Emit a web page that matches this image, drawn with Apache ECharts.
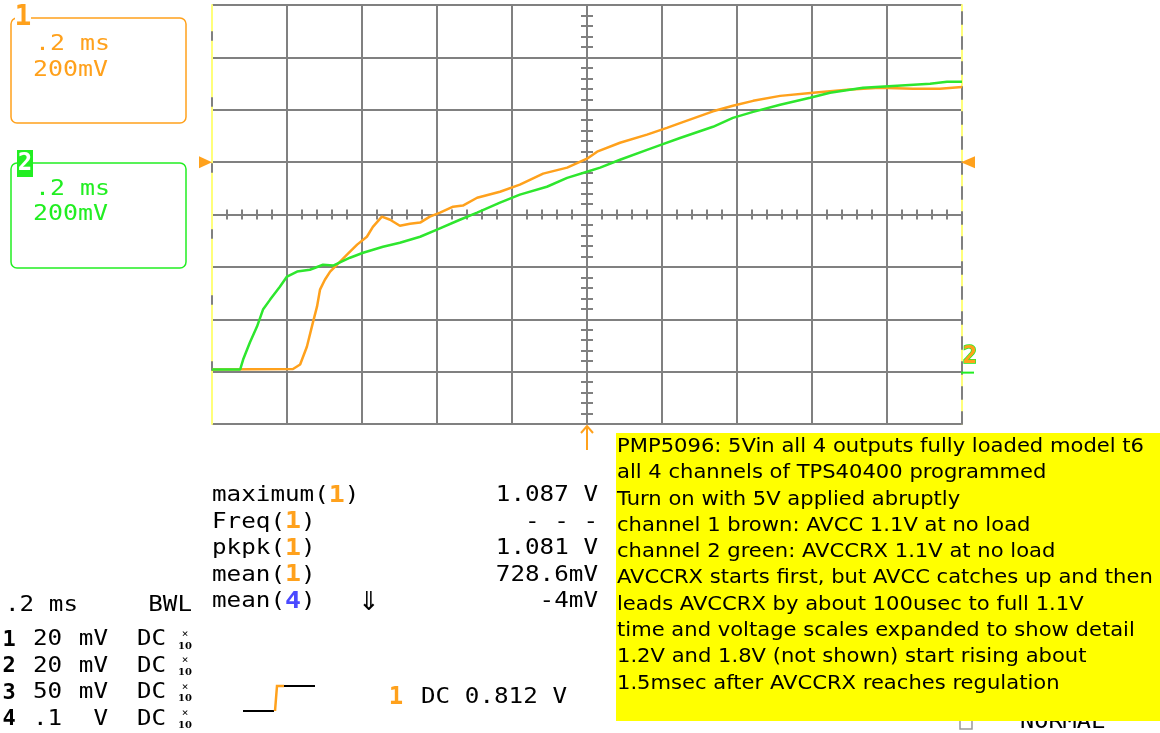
<!DOCTYPE html>
<html><head><meta charset="utf-8">
<script src="https://cdn.jsdelivr.net/npm/echarts@6/dist/echarts.min.js"></script>
<style>html,body{margin:0;padding:0;background:#fff}#c{width:1160px;height:733px}</style>
</head><body><div id="c"></div>
<script>
// ---- data (time in ms relative to trigger, voltage in V) ----
const ch1Time = [-1.0,-0.784,-0.765,-0.747,-0.731,-0.720,-0.712,-0.699,-0.685,-0.667,-0.640,-0.613,-0.587,-0.571,-0.547,-0.525,-0.499,-0.472,-0.445,-0.419,-0.392,-0.357,-0.331,-0.293,-0.232,-0.179,-0.117,-0.053,0,0.027,0.088,0.160,0.213,0.248,0.336,0.389,0.443,0.515,0.603,0.693,0.781,0.869,0.941,1.0];
const ch1Volt = [0.008,0.010,0.027,0.095,0.187,0.248,0.313,0.351,0.382,0.408,0.447,0.485,0.515,0.553,0.592,0.580,0.557,0.565,0.569,0.592,0.607,0.630,0.634,0.664,0.687,0.714,0.756,0.779,0.813,0.840,0.874,0.905,0.931,0.949,0.994,1.015,1.034,1.053,1.065,1.076,1.084,1.080,1.080,1.087];
const ch2Time = [-1.0,-0.925,-0.917,-0.899,-0.880,-0.864,-0.845,-0.819,-0.800,-0.773,-0.739,-0.704,-0.677,-0.632,-0.597,-0.544,-0.499,-0.445,-0.400,-0.339,-0.293,-0.232,-0.179,-0.107,-0.053,0,0.035,0.088,0.160,0.195,0.248,0.336,0.389,0.443,0.515,0.595,0.648,0.736,0.827,0.915,0.960,1.0];
const ch2Volt = [0.008,0.008,0.046,0.111,0.172,0.237,0.275,0.324,0.363,0.382,0.389,0.408,0.405,0.435,0.454,0.477,0.492,0.515,0.542,0.580,0.607,0.645,0.676,0.706,0.740,0.763,0.779,0.809,0.847,0.865,0.892,0.935,0.969,0.992,1.019,1.046,1.065,1.084,1.092,1.099,1.107,1.107];
const timeMin = -1.0, timeMax = 1.0, timeDiv = 0.2;   // .2 ms / div
const voltMin = -0.2, voltMax = 1.4, voltDiv = 0.2;   // 200 mV / div
const triggerMarkLevel = 0.8;
const groundLevel = 0;
const chanLabels = ['1', '2'];
const chanTimebase = '.2 ms';
const chanScale = '200mV';
const measureNames = ['maximum', 'Freq', 'pkpk', 'mean', 'mean'];
const measureChans = ['1', '1', '1', '1', '4'];
const measureValues = ['1.087 V', '- - -', '1.081 V', '728.6mV', '-4mV'];
const rowNums = ['1', '2', '3', '4'];
const rowValues = ['20', '20', '50', '.1'];
const rowUnits = ['mV', 'mV', 'mV', 'V'];
const triggerText = 'DC 0.812 V';
const noteLines = [
  'PMP5096: 5Vin all 4 outputs fully loaded model t6',
  'all 4 channels of TPS40400 programmed',
  'Turn on with 5V applied abruptly',
  'channel 1 brown: AVCC 1.1V at no load',
  'channel 2 green: AVCCRX 1.1V at no load',
  'AVCCRX starts first, but AVCC catches up and then',
  'leads AVCCRX by about 100usec to full 1.1V',
  'time and voltage scales expanded to show detail',
  '1.2V and 1.8V (not shown) start rising about',
  '1.5msec after AVCCRX reaches regulation'
];

// ---- styles ----
const ORANGE = '#ffa11c', GREEN = '#2ee62e', GREEN2 = '#22ee22', GRID = '#808080', EDGE = '#ffff7a';
const MONO = '"DejaVu Sans Mono"';
const FS = 21;
const mctx = document.createElement('canvas').getContext('2d');
function sxFor(size, adv) { mctx.font = size + 'px ' + MONO; return adv / mctx.measureText('0').width; }
function txt(x, y, text, o) {
  o = o || {};
  const size = o.size || FS;
  return { type: 'text', x: x, y: y, scaleX: o.sx || 1, z: o.z || 10,
    style: { text: text, font: (o.bold ? 'bold ' : '') + size + 'px ' + (o.family || MONO),
      fill: o.color || '#000', align: o.align || 'left', verticalAlign: 'middle', rich: o.rich,
      stroke: o.stroke, lineWidth: o.lw } };
}

const chart = echarts.init(document.getElementById('c'));
const hiddenBits = { axisLabel: { show: false }, splitLine: { show: false } };
function xa(extra) { return Object.assign({ type: 'value', min: timeMin, max: timeMax, interval: timeDiv, axisTick: { show: false }, axisLine: { show: false, onZero: false } }, hiddenBits, extra); }
function ya(extra) { return Object.assign({ type: 'value', min: voltMin, max: voltMax, interval: voltDiv, axisTick: { show: false }, axisLine: { show: false, onZero: false } }, hiddenBits, extra); }
const minor = { show: true, splitNumber: 5, length: 6, lineStyle: { color: GRID, width: 2 } };

chart.setOption({
  animation: false,
  backgroundColor: '#fff',
  grid: { left: 212, top: 5, width: 750, height: 419, show: false },
  xAxis: [
    xa({ splitLine: { show: true, showMinLine: false, showMaxLine: false, lineStyle: { color: GRID, width: 2 } } }),
    xa({ position: 'bottom', offset: -209.5, minorTick: Object.assign({}, minor, { length: 5 }) }),
    xa({ position: 'bottom', offset: -209.5, axisTick: { show: false, inside: true }, minorTick: Object.assign({}, minor, { length: 5 }) })
  ],
  yAxis: [
    ya({ position: 'left', splitLine: { show: true, lineStyle: { color: GRID, width: 2 } }, axisLine: { show: true, onZero: false, lineStyle: { color: EDGE, width: 2 } } }),
    ya({ position: 'left', axisLine: { show: true, onZero: false, lineStyle: { color: GRID, width: 2, type: [8, 58], dashOffset: 12 } } }),
    ya({ position: 'right', axisLine: { show: true, onZero: false, lineStyle: { color: EDGE, width: 2 } } }),
    ya({ position: 'right', axisLine: { show: true, onZero: false, lineStyle: { color: GRID, width: 2, type: [12, 13] } } }),
    ya({ position: 'left', offset: -375, minorTick: minor }),
    ya({ position: 'left', offset: -375, axisTick: { show: false, inside: true }, minorTick: minor })
  ],
  series: [
    { type: 'line', name: '1', data: ch1Time.map((t, i) => [t, ch1Volt[i]]), showSymbol: false, lineStyle: { color: ORANGE, width: 2.5 }, itemStyle: { color: ORANGE }, z: 3 },
    { type: 'line', name: '2', data: ch2Time.map((t, i) => [t, ch2Volt[i]]), showSymbol: false, lineStyle: { color: GREEN, width: 2.5 }, itemStyle: { color: GREEN }, z: 4 }
  ]
});

// ---- annotations ----
const trigL = chart.convertToPixel({ gridIndex: 0 }, [timeMin, triggerMarkLevel]);
const trigR = chart.convertToPixel({ gridIndex: 0 }, [timeMax, triggerMarkLevel]);
const gnd = chart.convertToPixel({ gridIndex: 0 }, [timeMax, groundLevel]);
const ctr = chart.convertToPixel({ gridIndex: 0 }, [0, voltMin]);

const sxBox = sxFor(21, 15);
const sxM = sxFor(FS, 14.6);
mctx.font = '19px "DejaVu Sans"';
const sxNote = 527 / mctx.measureText(noteLines[0]).width;

const g = [];
// channel boxes
g.push({ type: 'rect', shape: { x: 11, y: 18, width: 175, height: 105, r: 6 }, style: { fill: 'none', stroke: ORANGE, lineWidth: 1.5 }, z: 5 });
g.push({ type: 'rect', shape: { x: 15, y: 10, width: 16, height: 14 }, style: { fill: '#fff' }, z: 6 });
g.push(txt(23, 18, chanLabels[0], { size: 28, bold: true, color: ORANGE, align: 'center' }));
g.push(txt(35, 45, chanTimebase, { size: 21, sx: sxBox, color: ORANGE }));
g.push(txt(33, 71, chanScale, { size: 21, sx: sxBox, color: ORANGE }));

g.push({ type: 'rect', shape: { x: 11, y: 163, width: 175, height: 105, r: 6 }, style: { fill: 'none', stroke: GREEN2, lineWidth: 1.5 }, z: 5 });
g.push({ type: 'rect', shape: { x: 17, y: 150, width: 16, height: 27 }, style: { fill: GREEN2 }, z: 6 });
g.push(txt(25, 164, chanLabels[1], { size: 24, bold: true, color: '#fff', align: 'center' }));
g.push(txt(35, 190, chanTimebase, { size: 21, sx: sxBox, color: GREEN2 }));
g.push(txt(33, 215, chanScale, { size: 21, sx: sxBox, color: GREEN2 }));

// trigger level markers
g.push({ type: 'polygon', shape: { points: [[trigL[0] - 13, trigL[1] - 6], [trigL[0], trigL[1]], [trigL[0] - 13, trigL[1] + 6]] }, style: { fill: ORANGE }, z: 7 });
g.push({ type: 'polygon', shape: { points: [[trigR[0] + 13, trigR[1] - 6], [trigR[0] - 1, trigR[1]], [trigR[0] + 13, trigR[1] + 6]] }, style: { fill: ORANGE }, z: 7 });
// trigger position arrow
g.push({ type: 'polyline', shape: { points: [[ctr[0], ctr[1] + 2], [ctr[0], ctr[1] + 26]] }, style: { stroke: ORANGE, lineWidth: 2, fill: null }, z: 7 });
g.push({ type: 'polyline', shape: { points: [[ctr[0] - 6, ctr[1] + 9], [ctr[0], ctr[1] + 2], [ctr[0] + 6, ctr[1] + 9]] }, style: { stroke: ORANGE, lineWidth: 2, fill: null }, z: 7 });
// ground marker for channel 2
g.push(txt(gnd[0] + 8, gnd[1] - 15, chanLabels[1], { size: 24, bold: true, color: ORANGE, stroke: GREEN2, lw: 1.5, align: 'center' }));
g.push({ type: 'polyline', shape: { points: [[gnd[0] - 1, gnd[1] + 1], [gnd[0] + 12, gnd[1] + 1]] }, style: { stroke: GREEN2, lineWidth: 2, fill: null }, z: 7 });

// measurements
measureNames.forEach((n, i) => {
  const y = 496 + i * 26.5;
  const c = measureChans[i] === '4' ? '#4a4aff' : ORANGE;
  g.push(txt(212, y, n + '({c|' + measureChans[i] + '})', { sx: sxM, rich: { c: { fill: c, font: 'bold 23px ' + MONO } } }));
  g.push(txt(598, y, measureValues[i], { sx: sxM, align: 'right' }));
});
g.push(txt(369, 603, '⇓', { size: 26, align: 'center', family: '"DejaVu Sans"' }));

// channel settings
g.push(txt(5, 606, chanTimebase, { sx: sxM }));
g.push(txt(192, 606, 'BWL', { sx: sxM, align: 'right' }));
rowNums.forEach((n, i) => {
  const y = 640 + i * 26.4;
  g.push(txt(9, y, n, { size: 22, bold: true, align: 'center' }));
  g.push(txt(33, y, rowValues[i], { sx: sxM }));
  g.push(txt(108, y, rowUnits[i], { sx: sxM, align: 'right' }));
  g.push(txt(137, y, 'DC', { sx: sxM }));
  g.push(txt(185, y - 6, '×', { size: 11, align: 'center' }));
  g.push(txt(185, y + 6, '10', { size: 10, bold: true, align: 'center', family: '"DejaVu Serif"' }));
});

// trigger setup
g.push({ type: 'polyline', shape: { points: [[243, 711], [274, 711]] }, style: { stroke: '#000', lineWidth: 2, fill: null }, z: 7 });
g.push({ type: 'polyline', shape: { points: [[275, 711], [277, 686], [284, 686]] }, style: { stroke: ORANGE, lineWidth: 2.5, fill: null }, z: 7 });
g.push({ type: 'polyline', shape: { points: [[284, 686], [315, 686]] }, style: { stroke: '#000', lineWidth: 2, fill: null }, z: 7 });
g.push(txt(396, 698, chanLabels[0], { size: 24, bold: true, color: ORANGE, align: 'center' }));
g.push(txt(421, 698, triggerText, { sx: sxM }));

// NORMAL (partly hidden)
g.push({ type: 'rect', shape: { x: 960, y: 717, width: 12, height: 12 }, style: { fill: 'none', stroke: '#999', lineWidth: 1.5 }, z: 8 });
g.push(txt(1020, 723, 'NORMAL', { sx: sxFor(FS, 14.2), z: 8 }));

// yellow note box
g.push({ type: 'rect', shape: { x: 616, y: 433, width: 544, height: 288 }, style: { fill: '#ffff00' }, z: 20 });
noteLines.forEach((s, i) => {
  g.push(txt(617, 447 + i * 26.3, s, { family: '"DejaVu Sans"', size: 19, sx: sxNote, z: 21 }));
});

chart.setOption({ graphic: { elements: g } });
</script></body></html>
